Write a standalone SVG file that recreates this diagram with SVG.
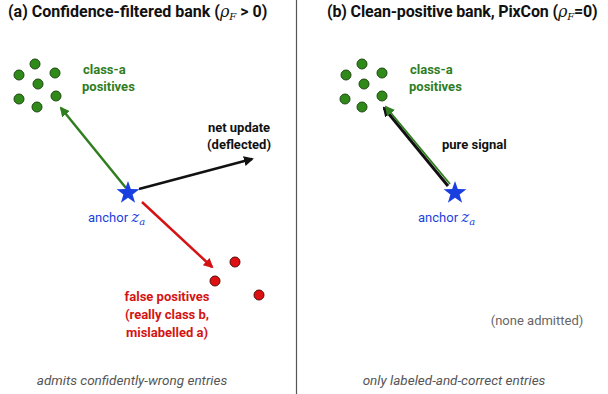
<svg xmlns="http://www.w3.org/2000/svg" width="608" height="394" viewBox="0 0 608 394">
<style>
text{font-family:Roboto,"Liberation Sans",Arial,sans-serif}
.title{font-size:16px;font-weight:bold;fill:#111}
.math{font-family:"DejaVu Serif","Liberation Serif",serif;font-style:italic;font-weight:normal}
.lbl{font-size:13px;font-weight:bold}
.g{fill:#2f7d1f}
.r{fill:#d41414}
.b{fill:#1a3fe0;font-size:13px}
.k{fill:#111}
.cap{font-size:13.5px;font-style:italic;fill:#555}
.gd{fill:#2f8a1a;stroke:#1d4a12;stroke-width:1}
.rd{fill:#dd1111;stroke:#5a0a0a;stroke-width:1}
.star{fill:#1a3fe0}
</style>
<defs>
<marker id="ag" markerWidth="10" markerHeight="10" refX="8" refY="5" orient="auto" markerUnits="userSpaceOnUse" viewBox="0 0 10 10"><path d="M0,0 L10,5 L0,10 z" fill="#2f7d1f"/></marker>
<marker id="ak" markerWidth="10" markerHeight="10" refX="8" refY="5" orient="auto" markerUnits="userSpaceOnUse" viewBox="0 0 10 10"><path d="M0,0 L10,5 L0,10 z" fill="#111"/></marker>
<marker id="ar" markerWidth="10" markerHeight="10" refX="8" refY="5" orient="auto" markerUnits="userSpaceOnUse" viewBox="0 0 10 10"><path d="M0,0 L10,5 L0,10 z" fill="#d41414"/></marker>
<path id="starshape" d="M0,-12 L2.8,-3.9 L11.4,-3.7 L4.6,1.5 L7.1,9.7 L0,4.8 L-7.1,9.7 L-4.6,1.5 L-11.4,-3.7 L-2.8,-3.9 z"/>
</defs>
<rect width="608" height="394" fill="#fff"/>
<line x1="296.5" y1="0" x2="296.5" y2="394" stroke="#555" stroke-width="1.2"/>

<g id="title-a"><text class="title" x="8" y="17">(a) Confidence-filtered bank (<tspan class="math">ρ</tspan><tspan class="math" font-size="10" dy="3">F</tspan><tspan dy="-3"> &gt; 0)</tspan></text></g>
<g id="title-b"><text class="title" x="327" y="17" letter-spacing="-0.15">(b) Clean-positive bank, PixCon (<tspan class="math">ρ</tspan><tspan class="math" font-size="10" dy="3">F</tspan><tspan dy="-3">=0)</tspan></text></g>

<g id="connectors">
<line x1="126" y1="188" x2="61" y2="108" stroke="#2f7d1f" stroke-width="2.5" marker-end="url(#ag)"/>
<line x1="139" y1="189" x2="252" y2="159" stroke="#111" stroke-width="2.5" marker-end="url(#ak)"/>
<line x1="142" y1="202" x2="212" y2="267" stroke="#d41414" stroke-width="2.5" marker-end="url(#ar)"/>
<line x1="448" y1="186" x2="384" y2="108" stroke="#111" stroke-width="3" marker-end="url(#ak)"/>
<line x1="450" y1="184" x2="386" y2="107" stroke="#2f7d1f" stroke-width="1.8" marker-end="url(#ag)"/>
</g>

<g id="positives-a">
<circle class="gd" cx="35" cy="64" r="5"/><circle class="gd" cx="19" cy="75" r="5"/><circle class="gd" cx="55" cy="73" r="5"/>
<circle class="gd" cx="38" cy="84" r="5"/><circle class="gd" cx="19" cy="99" r="5"/><circle class="gd" cx="56" cy="96" r="5"/><circle class="gd" cx="37" cy="107" r="5"/>
<text class="lbl g" x="83" y="74">class-a</text><text class="lbl g" x="82" y="91">positives</text>
</g>
<g id="anchor-a"><use href="#starshape" x="128" y="193" class="star"/><text class="b" x="88" y="222">anchor <tspan class="math" font-size="15">z</tspan><tspan class="math" font-size="10" dy="3">a</tspan></text></g>
<g id="net-update"><text class="lbl k" x="239" y="132" text-anchor="middle">net update</text><text class="lbl k" x="239" y="149" text-anchor="middle">(deflected)</text></g>
<g id="false-positives">
<circle class="rd" cx="235" cy="262" r="5"/><circle class="rd" cx="215" cy="281" r="5"/><circle class="rd" cx="259" cy="295" r="5"/>
<text class="lbl r" x="167" y="301" text-anchor="middle">false positives</text>
<text class="lbl r" x="167" y="319" text-anchor="middle">(really class b,</text>
<text class="lbl r" x="167" y="337" text-anchor="middle">mislabelled a)</text>
</g>
<g id="caption-a"><text class="cap" x="132" y="385" text-anchor="middle">admits confidently-wrong entries</text></g>

<g id="positives-b">
<circle class="gd" cx="362" cy="64" r="5"/><circle class="gd" cx="346" cy="75" r="5"/><circle class="gd" cx="382" cy="73" r="5"/>
<circle class="gd" cx="364" cy="84" r="5"/><circle class="gd" cx="345" cy="99" r="5"/><circle class="gd" cx="382" cy="96" r="5"/><circle class="gd" cx="362" cy="107" r="5"/>
<text class="lbl g" x="410" y="74">class-a</text><text class="lbl g" x="409" y="91">positives</text>
</g>
<g id="pure-signal"><text class="lbl k" x="442" y="149">pure signal</text></g>
<g id="anchor-b"><use href="#starshape" x="455" y="193" class="star"/><text class="b" x="418" y="222">anchor <tspan class="math" font-size="15">z</tspan><tspan class="math" font-size="10" dy="3">a</tspan></text></g>
<g id="none-admitted"><text x="537" y="325" text-anchor="middle" font-size="13" fill="#666">(none admitted)</text></g>
<g id="caption-b"><text class="cap" x="454" y="385" text-anchor="middle">only labeled-and-correct entries</text></g>
</svg>
